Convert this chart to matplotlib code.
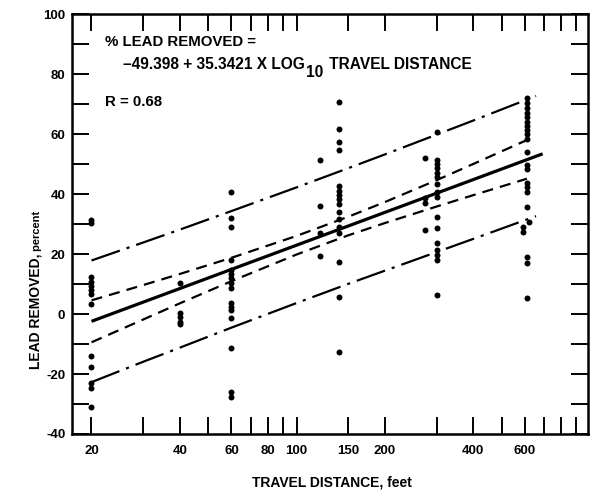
import matplotlib
matplotlib.use("Agg")
import matplotlib.pyplot as plt
from matplotlib.ticker import NullLocator

plt.rcParams['font.family'] = ['Liberation Sans', 'DejaVu Sans']
plt.rcParams['font.weight'] = 'bold'

# ---- data ----
# lead removed (percent) at each sampled travel distance (feet)
pts_20 = [31.5, 30.5, 12.3, 10.8, 9.4, 8.1, 6.7, 3.3, -14.0, -17.5, -23.1, -24.7, -31.1]
pts_40 = [10.3, 0.3, -1.1, -2.5, -3.4]
pts_60 = [40.7, 32.0, 29.2, 18.1, 14.7, 13.3, 12.0, 10.3, 8.8, 3.6, 2.5, 1.4, -1.4,
          -11.2, -25.9, -27.5]
pts_120 = [51.5, 36.2, 27.0, 19.4]
pts_140 = [70.9, 61.7, 57.6, 54.8, 42.8, 41.2, 39.8, 38.3, 36.8, 34.2, 31.7, 29.2, 27.0,
           17.5, 5.8, -12.5]
pts_275 = [52.2, 38.7, 37.2, 28.1]
pts_300 = [60.9, 51.5, 50.0, 48.7, 47.2, 45.9, 43.3, 40.9, 39.2, 32.5, 28.7, 23.7, 21.4,
           19.7, 18.1, 6.4]
pts_590 = [29.2, 27.5]
pts_610 = [72.1, 70.6, 68.7, 67.0, 65.7, 64.2, 62.8, 61.5, 60.0, 58.4, 54.2, 49.8, 48.3,
           43.7, 42.3, 40.9, 35.9, 19.0, 17.2, 5.3]
pts_620 = [30.9]
columns = {20: pts_20, 40: pts_40, 60: pts_60, 120: pts_120, 140: pts_140,
           275: pts_275, 300: pts_300, 590: pts_590, 610: pts_610, 620: pts_620}

# regression line end points
fit_x = [20, 690]
fit_y = [-2.4, 53.5]

# inner (confidence) band
inner_x = [20, 30, 40, 60, 100, 150, 200, 300, 400, 610]
inner_upper = [4.6, 9.7, 13.4, 18.8, 26.1, 32.5, 37.4, 44.7, 50.1, 58.1]
inner_lower = [-9.4, -1.8, 3.6, 11.0, 19.9, 26.3, 30.4, 35.9, 39.7, 45.2]

# outer (prediction) band
outer_x = [20, 30, 40, 60, 100, 150, 200, 300, 400, 655]
outer_upper = [17.9, 23.9, 28.2, 34.4, 42.3, 48.7, 53.3, 59.9, 64.6, 72.8]
outer_lower = [-22.7, -15.9, -11.2, -4.5, 3.7, 10.1, 14.5, 20.7, 25.1, 32.7]

x_ticks = [20, 30, 40, 50, 60, 70, 80, 90, 100, 150, 200, 300, 400, 500, 600, 700, 800, 900]
x_labels = ['20', '', '40', '', '60', '', '80', '', '100', '150', '200', '', '400', '',
            '600', '', '', '']
y_ticks = list(range(-40, 101, 10))
y_labels = [('%d' % v if v % 20 == 0 else '') for v in y_ticks]

# ---- figure ----
fig = plt.figure(figsize=(5.9, 4.93), dpi=100)
ax = fig.add_axes([0.1225, 0.1197, 0.8741, 0.8509])

for x, ys in columns.items():
    ax.plot([x] * len(ys), ys, 'o', color='black', ms=4.3, mew=0)

ax.plot(fit_x, fit_y, color='black', lw=2.3, solid_capstyle='butt')
short = (0, (5.0, 3.2))
dashdot = (0, (13.5, 3.2, 1.4, 3.2))
ax.plot(inner_x, inner_upper, color='black', lw=1.6, ls=short)
ax.plot(inner_x, inner_lower, color='black', lw=1.6, ls=short)
ax.plot(outer_x, outer_upper, color='black', lw=1.6, ls=dashdot)
ax.plot(outer_x, outer_lower, color='black', lw=1.6, ls=dashdot)

ax.set_xscale('log')
ax.set_xlim(17.2, 985)
ax.set_ylim(-40, 100)
ax.set_xticks(x_ticks, labels=x_labels)
ax.xaxis.set_minor_locator(NullLocator())
ax.set_yticks(y_ticks, labels=y_labels)
ax.tick_params(direction='in', length=12, width=1.4, top=True, right=True,
               labelsize=9.5, colors='black')
ax.tick_params(axis='x', pad=8)
ax.tick_params(axis='y', pad=5)
for s in ax.spines.values():
    s.set_linewidth(1.8)

# equation block
fs = 10.8
ax.text(0.064, 0.935, '% LEAD REMOVED =', transform=ax.transAxes,
        fontsize=fs, va='center', ha='left')
t1 = ax.text(0.098, 0.88, '\u201349.398 + 35.3421 X LOG', transform=ax.transAxes,
             fontsize=11.2, va='center', ha='left')
t2 = ax.annotate('10', xy=(1.0, 0.0), xycoords=t1, xytext=(1.0, 5),
                 textcoords='offset points', fontsize=11.2, va='top', ha='left')
ax.annotate(' TRAVEL DISTANCE', xy=(1.0, 0.5), xycoords=(t2, t1), xytext=(1.0, 0),
            textcoords='offset points', fontsize=11.2, va='center', ha='left')
ax.text(0.064, 0.792, 'R = 0.68', transform=ax.transAxes,
        fontsize=fs, va='center', ha='left')

# axis titles
ax.text(0.503, -0.115, 'TRAVEL DISTANCE, feet', transform=ax.transAxes,
        fontsize=10, ha='center', va='center')
ya = ax.text(-0.058, 0.43, 'LEAD REMOVED,', transform=ax.transAxes,
             fontsize=10, ha='right', va='top', rotation=90)
ax.annotate(' percent', xy=(1.0, 1.0), xycoords=ya, xytext=(-0.5, 0),
            textcoords='offset points', fontsize=8, ha='right', va='bottom',
            rotation=90)

fig.savefig('out.png', dpi=100)
